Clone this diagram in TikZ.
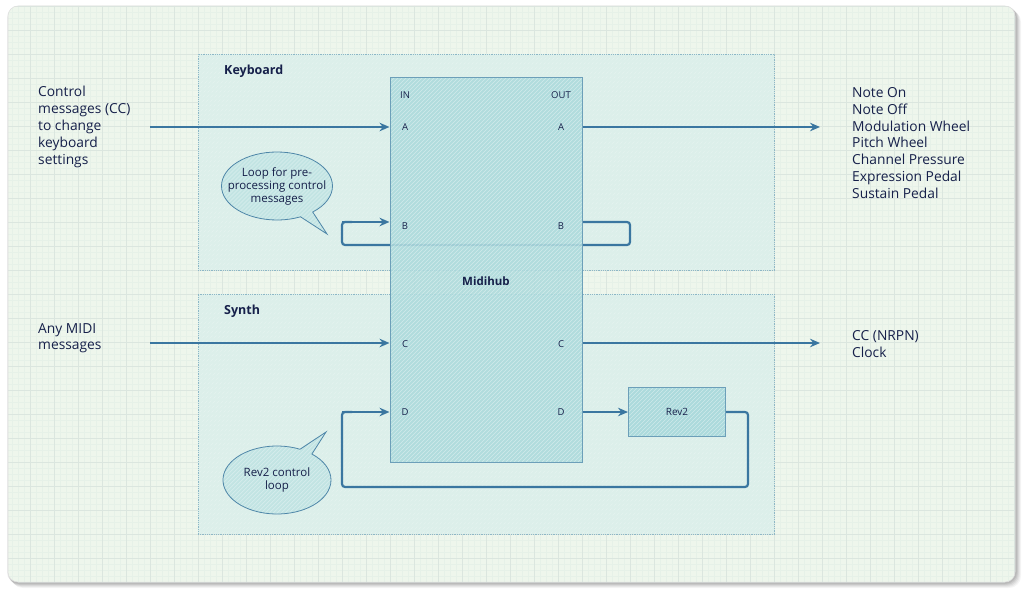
\documentclass[tikz,border=0pt]{standalone}
\usepackage{fontspec}
\setmainfont{Open Sans}
\usetikzlibrary{shapes.callouts,arrows.meta}
\definecolor{cardbg}{HTML}{EEF6EC}
\definecolor{gridminor}{HTML}{E6F1E8}
\definecolor{gridmajor}{HTML}{DBE6DF}
\definecolor{grpfill}{HTML}{DCEFEA}
\definecolor{grpline}{HTML}{8DB7C6}
\definecolor{hubfill}{HTML}{ACDADC}
\definecolor{hubline}{HTML}{6C9FB9}
\definecolor{flowc}{HTML}{3A76A0}
\definecolor{txtc}{HTML}{16204A}
\definecolor{bubfill}{HTML}{C2E4E3}
\definecolor{bubline}{HTML}{4E86A8}
\tikzset{
  hatch/.style={path picture={\foreach \k in {-400,-396,...,600} \draw[white, opacity=#1, line width=0.6pt] ([xshift=\k pt]path picture bounding box.south west) -- ++(600pt,600pt);}},
  grp/.style={draw=grpline, densely dotted, line width=0.8pt, fill=grpfill, hatch=0.3},
  hub/.style={draw=hubline, line width=1pt, fill=hubfill, fill opacity=0.88, hatch=0.4, minimum width=192pt, minimum height=384pt, inner sep=0pt},
  rev/.style={draw=hubline, line width=1pt, fill=hubfill, hatch=0.4, minimum width=97pt, minimum height=49pt, inner sep=0pt, font=\fontsize{10}{12}\selectfont, text=txtc},
  port/.style={font=\fontsize{9.5}{11}\selectfont, text=txtc, inner sep=0pt},
  grplabel/.style={font=\bfseries\fontsize{12.5}{14}\selectfont, text=txtc, anchor=west, inner sep=0pt},
  side/.style={font=\fontsize{13.8}{16.9}\selectfont, text=txtc, align=left, anchor=north west, inner sep=0pt},
  flow/.style={draw=flowc, line width=2.2pt, -{Stealth[length=10pt,width=8.5pt]}},
  loopline/.style={draw=flowc, line width=2.2pt, rounded corners=3pt},
  bubble/.style={ellipse callout, draw=bubline, line width=0.8pt, fill=bubfill, hatch=0.4, align=center, text=txtc, font=\fontsize{11.5}{13}\selectfont, inner sep=-10pt, minimum width=108pt, minimum height=68pt},
}
\begin{document}
\begin{tikzpicture}[x=1pt,y=-1pt]
\useasboundingbox (0,0) rectangle (1024,593);
\fill[white] (0,0) rectangle (1024,593);
% shadow
\foreach \o/\a in {6/0.04,5/0.05,4/0.06,3/0.07,2/0.08}
  \fill[black, opacity=\a, rounded corners=12pt] (8+\o-3,6+\o-2) rectangle (1015+\o,582+\o);
\fill[cardbg, rounded corners=10pt] (8,6) rectangle (1015,582);
\begin{scope}
\clip[rounded corners=10pt] (8,6) rectangle (1015,582);
\foreach \i in {0,...,168} \draw[gridminor, line width=0.4pt] (6+6*\i,6) -- (6+6*\i,582);
\foreach \i in {0,...,96} \draw[gridminor, line width=0.4pt] (8,6+6*\i) -- (1015,6+6*\i);
\foreach \i in {0,...,42} \draw[gridmajor, line width=0.6pt] (6+24*\i,6) -- (6+24*\i,582);
\foreach \i in {0,...,24} \draw[gridmajor, line width=0.6pt] (8,6+24*\i) -- (1015,6+24*\i);
\end{scope}
\draw[gray!25, line width=0.5pt, rounded corners=10pt] (8,6) rectangle (1015,582);

% groups
\node[grp, minimum width=576pt, minimum height=216pt, inner sep=0pt] (kbd) at (486,162) {};
\node[grp, minimum width=576pt, minimum height=240pt, inner sep=0pt] (syn) at (486,414) {};
\node[grplabel] (kbdl) at (224,71) {Keyboard};
\node[grplabel] (synl) at (224,311) {Synth};

% loop B (under hub)
\coordinate (bR) at (630,222);
\coordinate (bRd) at (630,245);
\coordinate (bLd) at (342,245);
\coordinate (bL) at (342,222);
\draw[loopline] (582,222) -- (bR) -- (bRd) -- (bLd) -- (bL) -- (352,222);

% hub
\node[hub] (hub) at (486,270) {};
\node[font=\bfseries\fontsize{11.5}{13}\selectfont, text=txtc] (hubl) at (486,281) {Midihub};
\node[port] (inl) at (405,95) {IN};
\node[port] (outl) at (561,95) {OUT};
\node[port] (ia) at (405,127) {A};
\node[port] (oa) at (561,127) {A};
\node[port] (ib) at (405,226) {B};
\node[port] (ob) at (561,226) {B};
\node[port] (ic) at (405,344) {C};
\node[port] (oc) at (561,344) {C};
\node[port] (id) at (405,412) {D};
\node[port] (od) at (561,412) {D};

% rev2
\node[rev] (rev) at (677,412) {Rev2};

% side texts
\node[side] (ltop) at (38,86) {Control\\messages (CC)\\to change\\keyboard\\settings};
\node[side] (lbot) at (38,323) {Any MIDI\\messages};
\node[side] (rtop) at (852,87) {Note On\\Note Off\\Modulation Wheel\\Pitch Wheel\\Channel Pressure\\Expression Pedal\\Sustain Pedal};
\node[side] (rbot) at (852,330) {CC (NRPN)\\Clock};

% connectors
\coordinate (sA) at (150,127);
\coordinate (eA) at (820,127);
\coordinate (sC) at (150,343);
\coordinate (eC) at (820,343);
\draw[flow] (sA) -- (hub.west |- sA);
\draw[flow] (hub.east |- eA) -- (eA);
\draw[flow] (sC) -- (hub.west |- sC);
\draw[flow] (hub.east |- eC) -- (eC);
\draw[flow] (bL) -- (hub.west |- bL);
\draw[flow, line width=1.8pt] (hub.east |- rev.west) -- (rev.west);
\coordinate (dR) at (748,412);
\coordinate (dRd) at (748,487);
\coordinate (dLd) at (342,487);
\coordinate (dL) at (342,412);
\draw[loopline] (rev.east) -- (dR) -- (dRd) -- (dLd) -- (dL) -- (352,412);
\draw[flow] (dL) -- (hub.west |- dL);

% callouts
\node[bubble, callout absolute pointer={(327,234)}] (bub1) at (277,186) {Loop for pre-\\processing control\\messages};
\node[bubble, callout absolute pointer={(326,432)}] (bub2) at (277,480) {Rev2 control\\loop};
\end{tikzpicture}
\end{document}
